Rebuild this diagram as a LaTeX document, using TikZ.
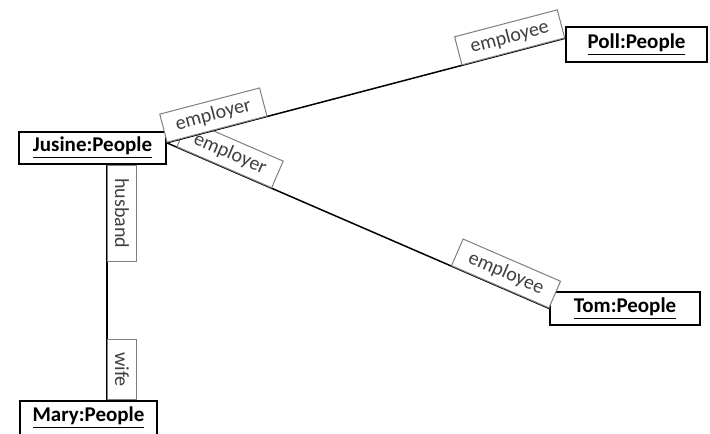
\documentclass[tikz,border=0pt]{standalone}
\usepackage{fontspec}
\setmainfont{Carlito}
\definecolor{rolegray}{HTML}{7F7F7F}
\definecolor{roletext}{HTML}{404040}

\begin{document}
\begin{tikzpicture}
	[x=0.5pt,y=-0.5pt,line width=0.75pt,
	obj/.style={draw,line width=0.75pt,inner sep=0pt,fill=white,
		font=\fontsize{10.5}{12}\selectfont\bfseries},
	role/.style={draw=rolegray,line width=0.5pt,fill=white,text=roletext,sloped,
		inner xsep=6.5pt,inner ysep=0pt,minimum height=14.5pt,
		font=\fontsize{10}{12}\selectfont}]
	\useasboundingbox (0,0) rectangle (710,433);
	% objects
	\node[obj,minimum width=73.5pt,minimum height=16pt] (jusine) at (92.5,148) {\underline{Jusine:People}};
	\node[obj,minimum width=70.5pt,minimum height=17.5pt] (poll) at (636.5,44.5) {\underline{Poll:People}};
	\node[obj,minimum width=75pt,minimum height=16.5pt] (tom) at (625,308.5) {\underline{Tom:People}};
	\node[obj,minimum width=68.5pt,minimum height=17pt] (mary) at (88.5,418) {\underline{Mary:People}};
	% links
	\draw (jusine.4) -- (tom.west)
		node[role,pos=0.025,anchor=south west] {employer}
		node[role,pos=1,anchor=south east] {employee};
	\draw (jusine.4) -- (poll.175)
		node[role,pos=0,anchor=south west] {employer}
		node[role,pos=1,anchor=south east] {employee};
	\draw ([xshift=7.25pt]jusine.south) coordinate (hb) -- (hb |- mary.north)
		node[role,pos=0,anchor=south west] {husband}
		node[role,pos=1,anchor=south east] {wife};
\end{tikzpicture}
\end{document}
